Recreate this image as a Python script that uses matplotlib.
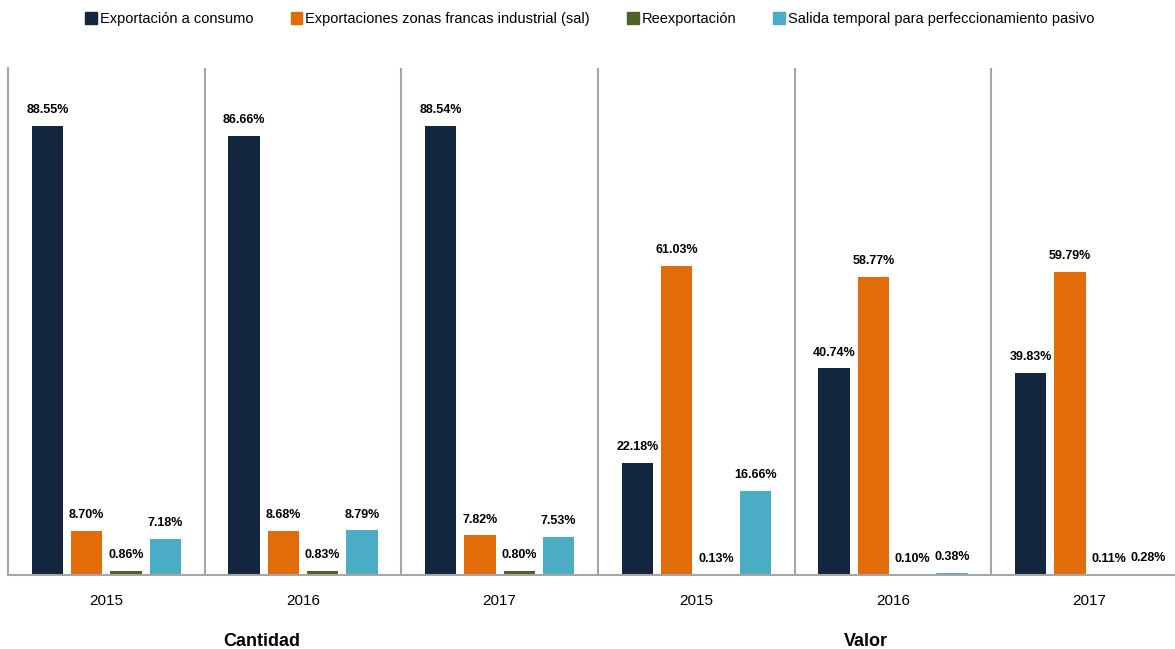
import numpy as np
import matplotlib.pyplot as plt
from matplotlib.patches import Patch

plt.rcParams['font.family'] = ['Liberation Sans Narrow', 'Liberation Sans', 'DejaVu Sans']

series = ['Exportación a consumo', 'Exportaciones zonas francas industrial (sal)',
          'Reexportación', 'Salida temporal para perfeccionamiento pasivo']
colors = ['#12263F', '#E36C0A', '#4F6228', '#4BACC6']
years = ['2015', '2016', '2017', '2015', '2016', '2017']
groups = ['Cantidad', 'Valor']

consumo = [88.55, 86.66, 88.54, 22.18, 40.74, 39.83]
zonas_francas = [8.70, 8.68, 7.82, 61.03, 58.77, 59.79]
reexportacion = [0.86, 0.83, 0.80, 0.13, 0.10, 0.11]
salida_temporal = [7.18, 8.79, 7.53, 16.66, 0.38, 0.28]
values = [consumo, zonas_francas, reexportacion, salida_temporal]

fig = plt.figure(figsize=(11.75, 6.49), dpi=100)
# axes runs a bit past the right edge, like the original
ax = fig.add_axes([8 / 1175, 1 - 575 / 649, 1180 / 1175, (575 - 68) / 649])

x = np.arange(len(years))
width = 0.16
for i, (vals, col) in enumerate(zip(values, colors)):
    pos = x + (i - 1.5) * 0.2
    bars = ax.bar(pos, vals, width, color=col)
    for b, v in zip(bars, vals):
        ax.annotate(f'{v:.2f}%', (b.get_x() + b.get_width() / 2, v),
                    xytext=(0, 7), textcoords='offset points',
                    ha='center', va='bottom', fontsize=9, fontweight='bold')

ax.set_xlim(-0.5, len(years) - 0.5)
ax.set_ylim(0, 100)
ax.set_yticks([])
ax.set_xticks(x)
ax.set_xticklabels(years, fontsize=11)
ax.tick_params(axis='x', length=0, pad=14)
for s in ['top', 'right']:
    ax.spines[s].set_visible(False)
ax.spines['bottom'].set_color('#A6A6A6')
ax.spines['left'].set_color('#A6A6A6')
ax.spines['bottom'].set_linewidth(1.5)
ax.spines['left'].set_linewidth(1.5)
for k in range(1, len(years) + 1):
    ax.axvline(k - 0.5, color='#A6A6A6', lw=1.5)

fig.text(262 / 1175, 1 - 641 / 649, groups[0], ha='center', va='center',
         fontsize=13, fontweight='bold')
fig.text(866 / 1175, 1 - 641 / 649, groups[1], ha='center', va='center',
         fontsize=13, fontweight='bold')

handles = [Patch(color=c) for c in colors]
fig.legend(handles, series, loc='center', bbox_to_anchor=(0.502, 1 - 19 / 649),
           ncol=4, frameon=False, fontsize=10.5, handlelength=0.8, handleheight=0.8,
           handletextpad=0.2, columnspacing=2.55)

fig.savefig('out.png', dpi=100)
